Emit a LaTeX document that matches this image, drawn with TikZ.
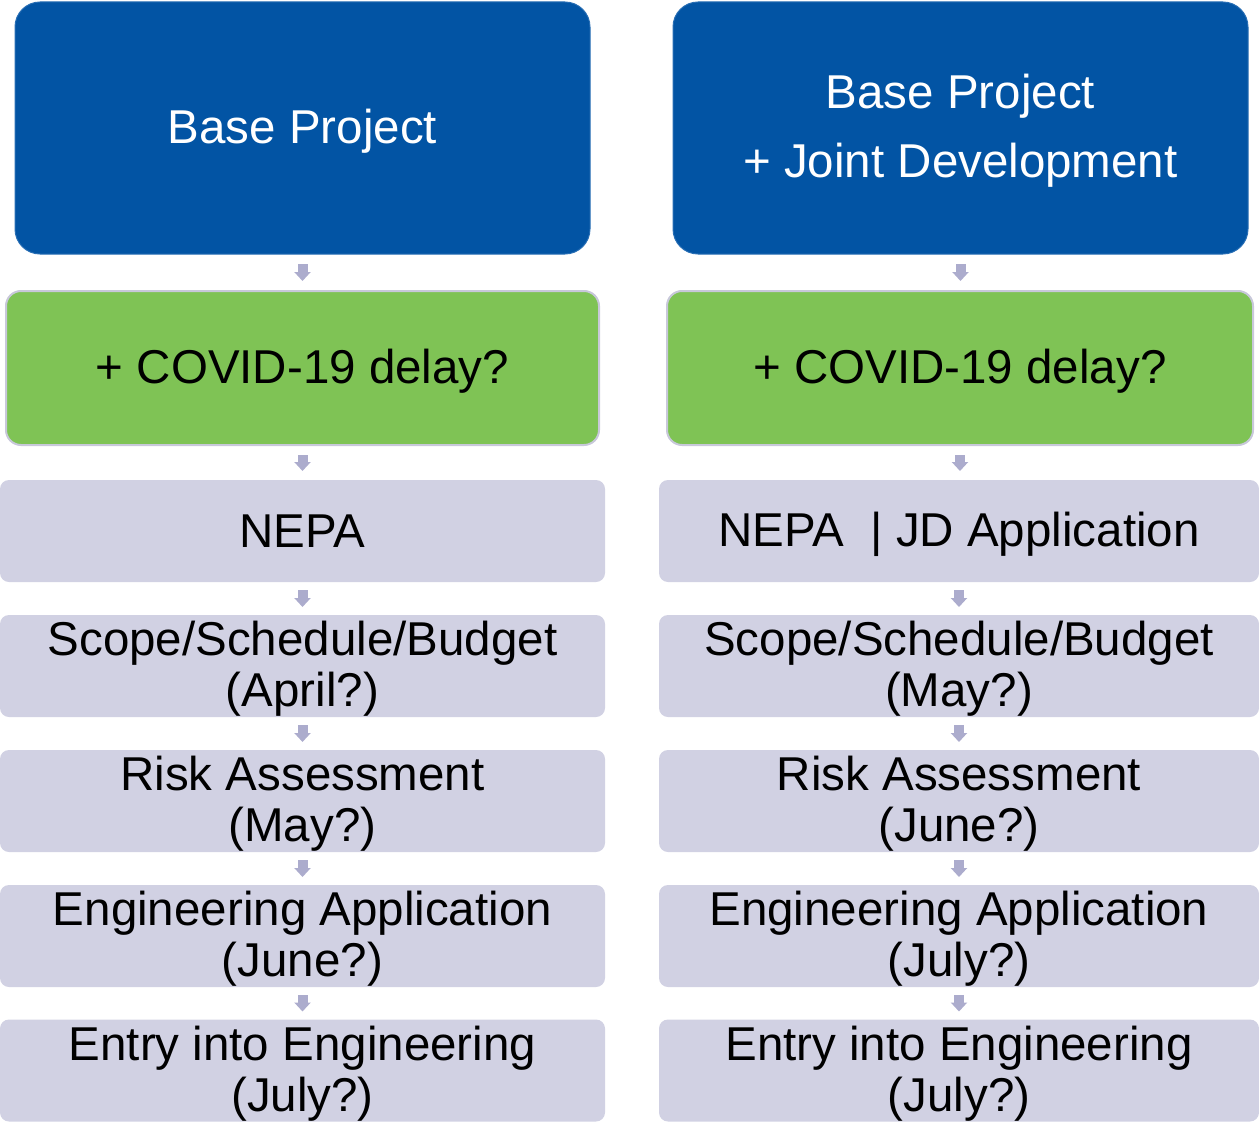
\documentclass[tikz,border=0pt]{standalone}
\usepackage{fontspec}
\setmainfont{Liberation Sans}
\usetikzlibrary{arrows.meta}
\definecolor{bluebox}{RGB}{2,84,164}
\definecolor{blueedge}{RGB}{40,110,180}
\definecolor{greenbox}{RGB}{127,195,85}
\definecolor{greenedge}{RGB}{200,200,218}
\definecolor{lavbox}{RGB}{209,209,227}
\definecolor{arrowcol}{RGB}{172,172,205}
\begin{document}
\begin{tikzpicture}[x=1pt,y=-1pt,
  every node/.style={inner sep=0pt, outer sep=0pt, align=center, font=\fontsize{47.5}{51}\selectfont},
  bluestyle/.style={fill=bluebox, draw=blueedge, line width=1pt, rounded corners=25pt,
    minimum width=575pt, minimum height=252pt},
  greenstyle/.style={fill=greenbox, draw=greenedge, line width=2pt, rounded corners=15pt,
    minimum height=154pt},
  lavstyle/.style={fill=lavbox, rounded corners=9pt, minimum height=102pt},
  bluetext/.style={label={[yshift=-3pt, text=white, font=\fontsize{47.5}{69}\selectfont]center:{#1}}},
  boxtext/.style={label={[yshift=-3pt]center:{#1}}},
  flow/.style={draw=arrowcol, line width=10pt, -{Triangle[width=16pt,length=9pt]}},
]
\useasboundingbox (0,0) rectangle (1259,1124);

% left column
\node[bluestyle, bluetext={Base Project}] (b1) at (302.5,128) {};
\node[greenstyle, minimum width=593pt, boxtext={+ COVID-19 delay?}] (g1) at (302.5,368) {};
\node[lavstyle, minimum width=605pt] (n1) at (302.5,531) {NEPA};
\node[lavstyle, minimum width=605pt, boxtext={Scope/Schedule/Budget\\(April?)}] (s1) at (302.5,666) {};
\node[lavstyle, minimum width=605pt, boxtext={Risk Assessment\\(May?)}] (r1) at (302.5,801) {};
\node[lavstyle, minimum width=605pt, boxtext={Engineering Application\\(June?)}] (e1) at (302.5,936) {};
\node[lavstyle, minimum width=605pt, boxtext={Entry into Engineering\\(July?)}] (t1) at (302.5,1070.5) {};

% right column
\node[bluestyle, bluetext={Base Project\\+ Joint Development}] (b2) at (960.5,128) {};
\node[greenstyle, minimum width=586pt, boxtext={+ COVID-19 delay?}] (g2) at (960,368) {};
\node[lavstyle, minimum width=600pt, boxtext={NEPA\ \ | JD Application}] (n2) at (959,531) {};
\node[lavstyle, minimum width=600pt, boxtext={Scope/Schedule/Budget\\(May?)}] (s2) at (959,666) {};
\node[lavstyle, minimum width=600pt, boxtext={Risk Assessment\\(June?)}] (r2) at (959,801) {};
\node[lavstyle, minimum width=600pt, boxtext={Engineering Application\\(July?)}] (e2) at (959,936) {};
\node[lavstyle, minimum width=600pt, boxtext={Entry into Engineering\\(July?)}] (t2) at (959,1070.5) {};

% connectors
\draw[flow, shorten <=10pt, shorten >=10pt] (b1.south) -- (b1.south |- g1.north);
\draw[flow, shorten <=10pt, shorten >=9pt] (g1.south) -- (g1.south |- n1.north);
\draw[flow, shorten <=8pt, shorten >=8pt] (n1) -- (s1);
\draw[flow, shorten <=8pt, shorten >=8pt] (s1) -- (r1);
\draw[flow, shorten <=8pt, shorten >=8pt] (r1) -- (e1);
\draw[flow, shorten <=8pt, shorten >=8pt] (e1) -- (t1);

\draw[flow, shorten <=10pt, shorten >=10pt] (b2.south) -- (b2.south |- g2.north);
\draw[flow, shorten <=10pt, shorten >=9pt] (g2.south) -- (g2.south |- n2.north);
\draw[flow, shorten <=8pt, shorten >=8pt] (n2.south -| s2.north) -- (s2.north);
\draw[flow, shorten <=8pt, shorten >=8pt] (s2) -- (r2);
\draw[flow, shorten <=8pt, shorten >=8pt] (r2) -- (e2);
\draw[flow, shorten <=8pt, shorten >=8pt] (e2) -- (t2);
\end{tikzpicture}
\end{document}
